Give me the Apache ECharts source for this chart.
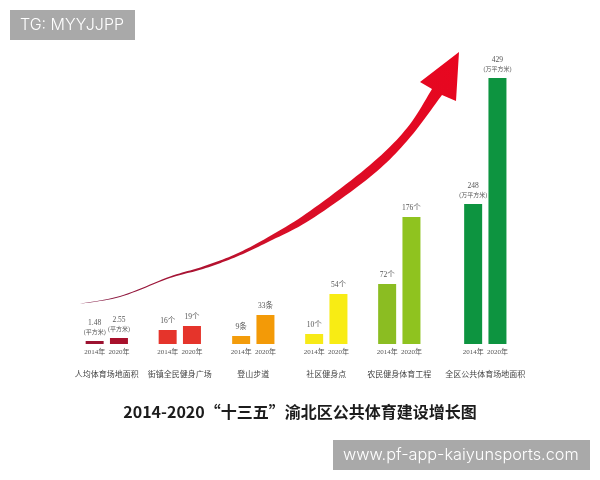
<!DOCTYPE html>
<html>
<head>
<meta charset="utf-8">
<style>html,body{margin:0;padding:0;background:#fff}#chart{width:600px;height:480px}</style>
<script src="https://cdn.jsdelivr.net/npm/echarts@6/dist/echarts.min.js"></script>
</head>
<body>
<div id="chart"></div>
<script>
// 分组名称
var groups=['人均体育场地面积','街镇全民健身广场','登山步道','社区健身点','农民健身体育工程','全区公共体育场地面积'];
var years=['2014年','2020年'];
// 柱子上的文字
var labels2014=['1.48\n(平方米)','16个','9条','10个','72个','248\n(万平方米)'];
var labels2020=['2.55\n(平方米)','19个','33条','54个','176个','429\n(万平方米)'];
// 原图柱高并不与文字成比例,这里是从图上量出来的高度
var heights2014=[3,14,8,10,60,140];
var heights2020=[6,18,29,50,127,266];
var colors2014=['#9c1230','#e5342b','#f39c0b','#f7ea17','#8bbd22','#0d9440'];
var colors2020=['#a8112c','#e5342b','#f39a07','#f8ec14','#8fc31f','#0d9440'];
// 每组左边的位置
var groupLeft=[82.5,155.5,229,302,375,461];

var font='"Liberation Serif","Noto Sans CJK SC",serif';
// 单位那一行字小一点
function unitText(s){
    return s.replace(/\(.*\)/,'{u|$&}');
}
var grid=[],xAxis=[],yAxis=[],series=[];
groups.forEach(function(name,i){
    grid.push({left:groupLeft[i],width:48.6,top:44,height:300});
    xAxis.push({
        type:'category',gridIndex:i,data:years,
        axisLine:{show:false},axisTick:{show:false},
        axisLabel:{interval:0,margin:5,fontSize:7,color:'#555',fontFamily:font},
        name:name,nameLocation:'middle',nameGap:27,
        nameTextStyle:{fontSize:8,color:'#444',fontFamily:font}
    });
    yAxis.push({type:'value',gridIndex:i,min:0,max:300,show:false});
    series.push({
        type:'bar',xAxisIndex:i,yAxisIndex:i,barWidth:18,
        data:[
            {value:heights2014[i],itemStyle:{color:colors2014[i]},label:{formatter:unitText(labels2014[i])}},
            {value:heights2020[i],itemStyle:{color:colors2020[i]},label:{formatter:unitText(labels2020[i])}}
        ],
        label:{
            show:true,position:'top',distance:4,fontSize:7.5,lineHeight:9,color:'#555',fontFamily:font,
            rich:{u:{fontSize:6,lineHeight:9,color:'#555',fontFamily:font}}
        }
    });
});

// 箭头轮廓:上边缘、下边缘,中间用曲线连起来
var arrowUpper=[[78,304],[120,296],[170,276.5],[203,266.5],[237,253.5],[270,236],[310,211],[370,165],[407,128],[432,89]];
var arrowLower=[[442,95],[407,141],[370,177],[310,220],[270,241],[237,256.5],[203,269],[170,278],[120,297],[78,304]];
var arrowHead=[[420,82],[459,52],[456,101]];
function curve(p){
    var out=[];
    for(var i=0;i<p.length-1;i++){
        var a=p[i-1]||p[i],b=p[i],c=p[i+1],d=p[i+2]||c;
        for(var k=0;k<12;k++){
            var t=k/12,t2=t*t,t3=t2*t;
            out.push([0,1].map(function(n){
                return 0.5*(2*b[n]+(c[n]-a[n])*t+(2*a[n]-5*b[n]+4*c[n]-d[n])*t2+(3*b[n]-a[n]-3*c[n]+d[n])*t3);
            }));
        }
    }
    out.push(p[p.length-1]);
    return out;
}
var arrowPoints=curve(arrowUpper).concat(arrowHead,curve(arrowLower));

var mychart=echarts.init(document.getElementById('chart'));
mychart.setOption({
    backgroundColor:'#fff',
    animation:false,
    title:{
        text:'2014-2020“十三五”渝北区公共体育建设增长图',
        left:'center',top:399,
        textStyle:{fontSize:16,fontWeight:'bold',color:'#1c1c1c',fontFamily:'"Noto Sans CJK SC"'}
    },
    grid:grid,xAxis:xAxis,yAxis:yAxis,series:series,
    graphic:[
        // 红色箭头
        {type:'polygon',z:5,shape:{points:arrowPoints},style:{fill:new echarts.graphic.LinearGradient(0,1,1,0,[
            {offset:0,color:'#7d1a45'},{offset:0.3,color:'#b5122f'},{offset:0.45,color:'#d80f28'},{offset:1,color:'#e8061f'}
        ])}},
        // 水印
        {type:'rect',shape:{x:10,y:10,width:125,height:30},style:{fill:'#a9a9a9'}},
        {type:'text',x:20,y:25,style:{text:'TG: MYYJJPP',fill:'#fff',fontSize:16,fontWeight:300,fontFamily:'Inter',verticalAlign:'middle'}},
        {type:'rect',shape:{x:333,y:440,width:257,height:30},style:{fill:'#a9a9a9'}},
        {type:'text',x:343,y:455,style:{text:'www.pf-app-kaiyunsports.com',fill:'#fff',fontSize:16.3,fontWeight:300,fontFamily:'Inter',verticalAlign:'middle'}}
    ]
});
</script>
</body>
</html>
